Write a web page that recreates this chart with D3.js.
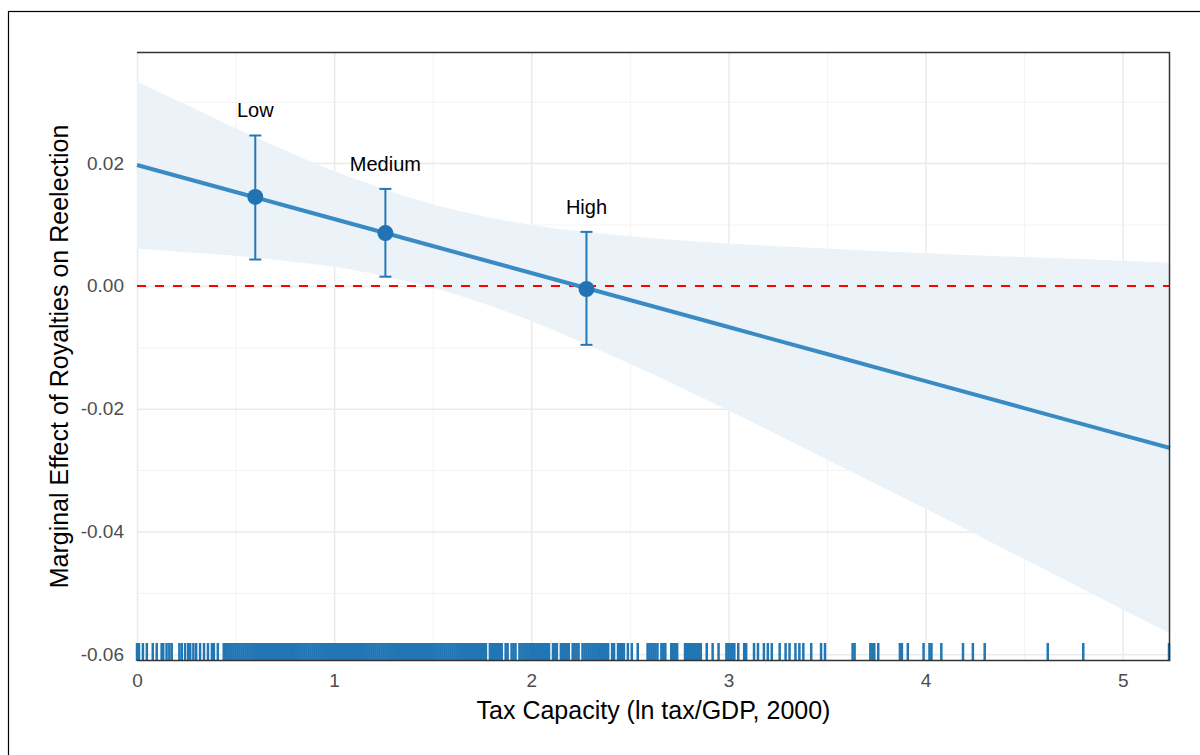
<!DOCTYPE html>
<html>
<head>
<meta charset="utf-8">
<script src="https://cdn.jsdelivr.net/npm/d3@7"></script>
<style>
  body { margin: 0; background: #fff; }
  svg { display: block; font-family: "Liberation Sans", Arial, sans-serif; }
  .grid line { stroke: #ebebeb; stroke-width: 1.5; }
  .grid.minor line { stroke: #f3f3f3; stroke-width: 1; }
  .grid path { display: none; }
</style>
</head>
<body>
<svg id="svgID" width="1200" height="755"></svg>
<script>
// fitted marginal effect (ribbon)
var fitX     = [0, 0.25, 0.5, 0.75, 1.0, 1.25, 1.5, 1.75, 2.0, 2.5, 3.0, 3.5, 4.0, 4.5, 5.0, 5.24];
var fitMid   = [0.0197, 0.0175, 0.0153, 0.0131, 0.0109, 0.0087, 0.0065, 0.0043, 0.0021, -0.0023, -0.0067, -0.0111, -0.0155, -0.0199, -0.0243, -0.0264];
var fitUpper = [0.0333, 0.0295, 0.0257, 0.0221, 0.0187, 0.0158, 0.0133, 0.0114, 0.0099, 0.0081, 0.0069, 0.0061, 0.0053, 0.0047, 0.0041, 0.0038];
var fitLower = [0.0061, 0.0055, 0.0049, 0.0041, 0.0031, 0.0016, -0.0003, -0.0028, -0.0057, -0.0127, -0.0203, -0.0283, -0.0363, -0.0445, -0.0527, -0.0566];

// point estimates at low / medium / high tax capacity
var pointLabels = ["Low", "Medium", "High"];
var pointX      = [0.60, 1.26, 2.28];
var pointY      = [0.0145, 0.0086, -0.0005];
var pointHi     = [0.0245, 0.0158, 0.0088];
var pointLo     = [0.0043, 0.0015, -0.0096];

// rug of observed tax capacity
var rugLeft = [0.00, 0.01, 0.03, 0.05, 0.08, 0.10, 0.125, 0.133, 0.15, 0.164, 0.176, 0.215, 0.227, 0.244, 0.26, 0.27, 0.286, 0.30, 0.32, 0.34, 0.36, 0.38, 0.39, 0.41];
var rugDense = [0.44, 0.45, 0.46, 0.47, 0.48, 0.49, 0.50, 0.51, 0.52, 0.53, 0.54, 0.55, 0.56, 0.57, 0.58, 0.59,
  0.60, 0.61, 0.62, 0.63, 0.64, 0.65, 0.66, 0.67, 0.68, 0.69, 0.70, 0.71, 0.72, 0.73, 0.74, 0.75, 0.76, 0.77, 0.78, 0.79,
  0.80, 0.81, 0.82, 0.83, 0.84, 0.85, 0.86, 0.87, 0.88, 0.89, 0.90, 0.91, 0.92, 0.93, 0.94, 0.95, 0.96, 0.97, 0.98, 0.99,
  1.00, 1.01, 1.02, 1.03, 1.04, 1.05, 1.06, 1.07, 1.08, 1.09, 1.10, 1.11, 1.12, 1.13, 1.14, 1.15, 1.16, 1.17, 1.18, 1.19,
  1.20, 1.21, 1.22, 1.23, 1.24, 1.25, 1.26, 1.27, 1.28, 1.29, 1.30, 1.31, 1.32, 1.33, 1.34, 1.35, 1.36, 1.37, 1.38, 1.39,
  1.40, 1.41, 1.42, 1.43, 1.44, 1.45, 1.46, 1.47, 1.48, 1.49, 1.50, 1.51, 1.52, 1.53, 1.54, 1.55, 1.56, 1.57, 1.58, 1.59,
  1.60, 1.61, 1.62, 1.63, 1.64, 1.65, 1.66, 1.67, 1.68, 1.69, 1.70, 1.71, 1.72, 1.73, 1.74, 1.75, 1.76, 1.77, 1.79,
  1.80, 1.81, 1.82, 1.83, 1.84, 1.85, 1.87, 1.88, 1.90, 1.91, 1.92, 1.94, 1.95, 1.96, 1.97, 1.98, 1.99,
  2.00, 2.01, 2.02, 2.03, 2.04, 2.05, 2.06, 2.07, 2.08, 2.09, 2.11, 2.12, 2.13, 2.15, 2.16, 2.17, 2.18, 2.19,
  2.21, 2.22, 2.23, 2.24, 2.26, 2.27, 2.28, 2.29, 2.30, 2.31, 2.32, 2.33, 2.34, 2.35, 2.36, 2.37, 2.38, 2.39, 2.41, 2.42, 2.44, 2.45, 2.46, 2.47, 2.49];
var rugRight = [2.51, 2.54, 2.59, 2.60, 2.61, 2.62, 2.63, 2.64, 2.66, 2.67, 2.68, 2.71, 2.72, 2.73, 2.74,
  2.78, 2.79, 2.80, 2.81, 2.82, 2.83, 2.84, 2.85, 2.86, 2.89, 2.92, 2.95, 2.99, 3.00, 3.01, 3.02, 3.03,
  3.05, 3.08, 3.09, 3.13, 3.15, 3.18, 3.20, 3.22, 3.26, 3.29, 3.31, 3.34, 3.36, 3.38, 3.42, 3.47, 3.49,
  3.63, 3.64, 3.72, 3.73, 3.74, 3.76, 3.87, 3.88, 3.91, 3.99, 4.02, 4.03, 4.08, 4.19, 4.24, 4.30, 4.62, 4.80, 5.235];
var rugX = rugLeft.concat(rugDense, rugRight);

// axes
var xTicks = [0, 1, 2, 3, 4, 5];
var xMinor = [0.5, 1.5, 2.5, 3.5, 4.5];
var yTicks = [-0.06, -0.04, -0.02, 0, 0.02];
var yTickLabels = ["-0.06", "-0.04", "-0.02", "0.00", "0.02"];
var yMinor = [-0.05, -0.03, -0.01, 0.01, 0.03];

var svg = d3.select("#svgID");
var margin = {left: 137, right: 30, top: 52, bottom: 94};
var width = 1200 - margin.left - margin.right,
    height = 755 - margin.top - margin.bottom;

var xScale = d3.scaleLinear().domain([0, 5.24]).range([margin.left, margin.left + width]);
var yScale = d3.scaleLinear().domain([-0.0611, 0.0381]).range([margin.top + height, margin.top]);

// outer frame
svg.append("rect")
  .attr("x", 8.5).attr("y", 11.5)
  .attr("width", 1250).attr("height", 800)
  .attr("fill", "none").attr("stroke", "#000").attr("stroke-width", 1.2);

// gridlines (minor first)
svg.append("g").attr("class", "grid minor")
  .attr("transform", "translate(" + margin.left + ",0)")
  .call(d3.axisLeft(yScale).tickValues(yMinor).tickSize(-width).tickFormat(""));
svg.append("g").attr("class", "grid minor")
  .attr("transform", "translate(0," + margin.top + ")")
  .call(d3.axisBottom(xScale).tickValues(xMinor).tickSize(height).tickFormat(""));
svg.append("g").attr("class", "grid")
  .attr("transform", "translate(" + margin.left + ",0)")
  .call(d3.axisLeft(yScale).tickValues(yTicks).tickSize(-width).tickFormat(""));
svg.append("g").attr("class", "grid")
  .attr("transform", "translate(0," + margin.top + ")")
  .call(d3.axisBottom(xScale).tickValues(xTicks).tickSize(height).tickFormat(""));

// confidence ribbon
var ribbon = fitX.map(function(x, i) { return {x: x, lo: fitLower[i], hi: fitUpper[i], mid: fitMid[i]}; });
svg.append("path")
  .datum(ribbon)
  .attr("fill", "#ebf3f8")
  .attr("d", d3.area()
    .curve(d3.curveMonotoneX)
    .x(function(d) { return xScale(d.x); })
    .y0(function(d) { return yScale(d.lo); })
    .y1(function(d) { return yScale(d.hi); }));

// zero reference
svg.append("line")
  .attr("x1", xScale(0)).attr("x2", xScale(5.24))
  .attr("y1", yScale(0)).attr("y2", yScale(0))
  .attr("stroke", "#ff0000").attr("stroke-width", 2)
  .attr("stroke-dasharray", "9,9");

// fitted line
svg.append("path")
  .datum(ribbon)
  .attr("fill", "none")
  .attr("stroke", "#3a8bc4")
  .attr("stroke-width", 4)
  .attr("d", d3.line()
    .x(function(d) { return xScale(d.x); })
    .y(function(d) { return yScale(d.mid); }));

// rug
svg.append("g").selectAll("line")
  .data(rugX)
  .enter()
  .append("line")
    .attr("x1", function(d) { return xScale(d); })
    .attr("x2", function(d) { return xScale(d); })
    .attr("y1", yScale(-0.0611) - 18)
    .attr("y2", yScale(-0.0611))
    .attr("stroke", "#2176b4")
    .attr("stroke-width", 2.5);

// panel border: top, right, bottom
svg.append("path")
  .attr("d", "M" + margin.left + "," + (margin.top + 0.5) + "H" + (margin.left + width - 0.5) +
             "V" + (margin.top + height - 0.5) + "H" + margin.left)
  .attr("fill", "none").attr("stroke", "#333").attr("stroke-width", 1.5);

// error bars and points
var pts = pointX.map(function(x, i) {
  return {label: pointLabels[i], x: x, y: pointY[i], hi: pointHi[i], lo: pointLo[i]};
});
var pg = svg.append("g");
pg.selectAll(".eb").data(pts).enter().append("line")
  .attr("x1", function(d) { return xScale(d.x); })
  .attr("x2", function(d) { return xScale(d.x); })
  .attr("y1", function(d) { return yScale(d.hi); })
  .attr("y2", function(d) { return yScale(d.lo); })
  .attr("stroke", "#2577b5").attr("stroke-width", 2);
[function(d) { return d.hi; }, function(d) { return d.lo; }].forEach(function(acc) {
  pg.selectAll(".cap").data(pts).enter().append("line")
    .attr("x1", function(d) { return xScale(d.x) - 6; })
    .attr("x2", function(d) { return xScale(d.x) + 6; })
    .attr("y1", function(d) { return yScale(acc(d)); })
    .attr("y2", function(d) { return yScale(acc(d)); })
    .attr("stroke", "#2577b5").attr("stroke-width", 2);
});
pg.selectAll("circle").data(pts).enter().append("circle")
  .attr("cx", function(d) { return xScale(d.x); })
  .attr("cy", function(d) { return yScale(d.y); })
  .attr("r", 8)
  .attr("fill", "#2173b4");
pg.selectAll("text").data(pts).enter().append("text")
  .attr("x", function(d) { return xScale(d.x); })
  .attr("y", function(d) { return yScale(d.hi) - 18; })
  .attr("text-anchor", "middle")
  .attr("font-size", 20)
  .attr("fill", "#000")
  .text(function(d) { return d.label; });

// axes labels
var xAxis = svg.append("g")
  .attr("transform", "translate(0," + (margin.top + height) + ")")
  .call(d3.axisBottom(xScale).tickValues(xTicks).tickSize(0).tickPadding(13).tickFormat(d3.format("d")));
xAxis.select(".domain").remove();
xAxis.selectAll("text").attr("font-size", 19).attr("fill", "#4d4d4d").attr("font-family", null);

var yAxis = svg.append("g")
  .attr("transform", "translate(" + margin.left + ",0)")
  .call(d3.axisLeft(yScale).tickValues(yTicks).tickSize(0).tickPadding(13)
    .tickFormat(function(d, i) { return yTickLabels[i]; }));
yAxis.select(".domain").remove();
yAxis.selectAll("text").attr("font-size", 19).attr("fill", "#4d4d4d").attr("font-family", null);

svg.append("text")
  .attr("x", margin.left + width / 2)
  .attr("y", 719)
  .attr("text-anchor", "middle")
  .attr("font-size", 25)
  .attr("fill", "#000")
  .text("Tax Capacity (ln tax/GDP, 2000)");

svg.append("text")
  .attr("transform", "translate(68," + (margin.top + height / 2) + ") rotate(-90)")
  .attr("text-anchor", "middle")
  .attr("font-size", 25)
  .attr("fill", "#000")
  .text("Marginal Effect of Royalties on Reelection");
</script>
</body>
</html>
